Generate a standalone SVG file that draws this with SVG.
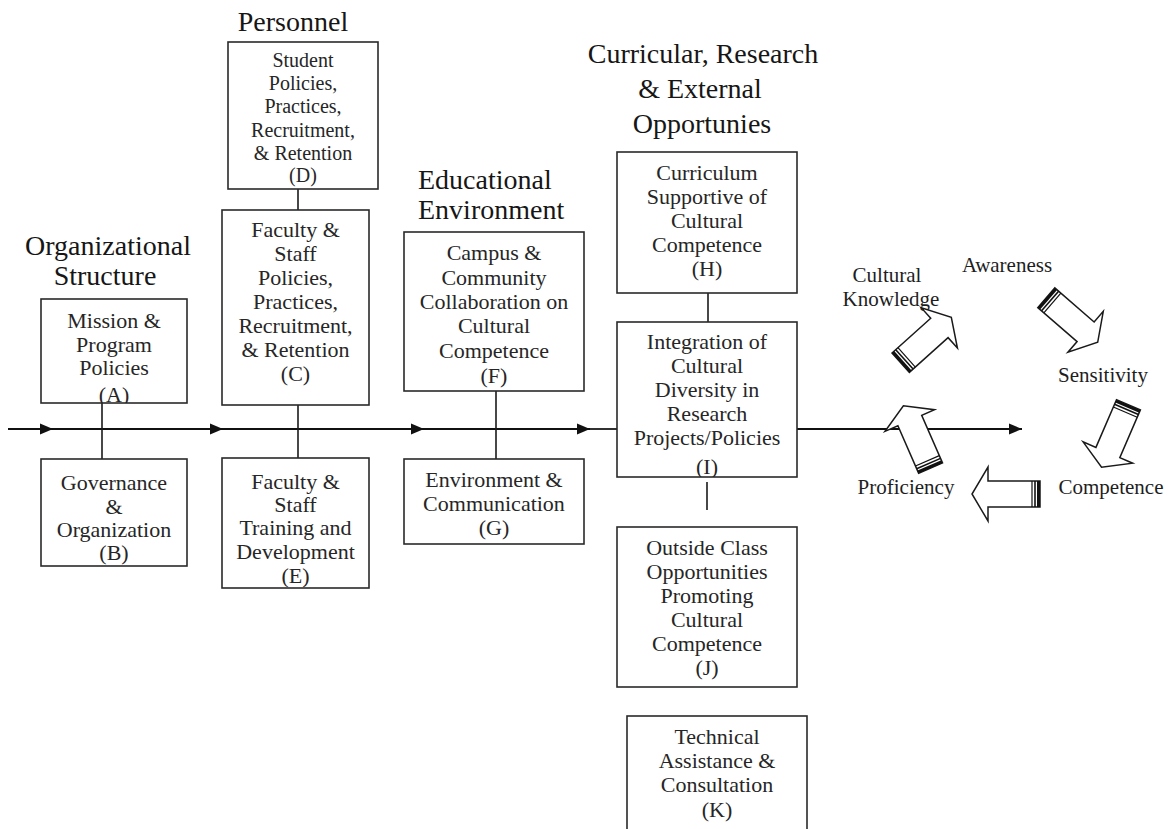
<svg xmlns="http://www.w3.org/2000/svg" xmlns:xlink="http://www.w3.org/1999/xlink" width="1174" height="829" viewBox="0 0 1174 829">
<style>
.box{fill:#fff;stroke:#2a2a2a;stroke-width:1.6}
.t{font-size:22px;text-anchor:middle;fill:#262626}
.ts{font-size:20px;text-anchor:middle;fill:#262626}
.ti{font-size:28px;fill:#161616}
.lb{font-size:21px;fill:#1e1e1e}
.ln{stroke:#1a1a1a;stroke-width:1.6;fill:none}
.ar{stroke:#111;stroke-width:1.8;fill:none;marker-end:url(#ah)}
</style>
<defs>
<marker id="ah" markerWidth="14" markerHeight="12" refX="13" refY="6" orient="auto" markerUnits="userSpaceOnUse">
<path d="M0,0.5 L13,6 L0,11.5 Z" fill="#111"/>
</marker>
<g id="blk">
<polygon points="-34,-13 18,-13 18,-27 34,0 18,27 18,13 -34,13" fill="#fff" stroke="#1a1a1a" stroke-width="1.5" stroke-linejoin="miter"/>
<line x1="-32.5" y1="-13" x2="-32.5" y2="13" stroke="#111" stroke-width="3"/>
<line x1="-29" y1="-13" x2="-29" y2="13" stroke="#111" stroke-width="1.6"/>
<line x1="-26" y1="-13" x2="-26" y2="13" stroke="#111" stroke-width="1.2"/>
</g>
<clipPath id="cA"><rect x="41" y="299" width="146" height="104"/></clipPath>
<clipPath id="cI"><rect x="617" y="322" width="180" height="155"/></clipPath>
<clipPath id="cE"><rect x="222" y="458" width="147" height="130"/></clipPath>
</defs>

<g id="connectors">
<line class="ar" x1="8" y1="429" x2="53" y2="429"/>
<line class="ar" x1="53" y1="429" x2="223" y2="429"/>
<line class="ar" x1="223" y1="429" x2="424" y2="429"/>
<line class="ar" x1="424" y1="429" x2="590" y2="429"/>
<line class="ln" x1="590" y1="429" x2="617" y2="429" style="stroke-width:1.8"/>
<line class="ar" x1="797" y1="429" x2="1022" y2="429"/>
<line class="ln" x1="102" y1="403" x2="102" y2="459"/>
<line class="ln" x1="298" y1="189" x2="298" y2="210"/>
<line class="ln" x1="298" y1="405" x2="298" y2="458"/>
<line class="ln" x1="496" y1="391" x2="496" y2="459"/>
<line class="ln" x1="708" y1="293" x2="708" y2="322"/>
<line class="ln" x1="707" y1="482" x2="707" y2="510"/>
</g>

<g font-family="Liberation Serif, DejaVu Serif, Times New Roman, serif">
<g id="titles">
<text class="ti" x="108" y="255" text-anchor="middle">Organizational</text>
<text class="ti" x="105" y="285" text-anchor="middle">Structure</text>
<text class="ti" x="293" y="31" text-anchor="middle">Personnel</text>
<text class="ti" x="418" y="189">Educational</text>
<text class="ti" x="418" y="219">Environment</text>
<text class="ti" x="703" y="63" text-anchor="middle">Curricular, Research</text>
<text class="ti" x="700" y="98" text-anchor="middle">&amp; External</text>
<text class="ti" x="702" y="133" text-anchor="middle">Opportunies</text>
</g>

<g id="nodeA">
<rect class="box" x="41" y="299" width="146" height="104"/>
<g clip-path="url(#cA)">
<text class="t" x="114" y="328">Mission &amp;</text>
<text class="t" x="114" y="352">Program</text>
<text class="t" x="114" y="375">Policies</text>
<text class="t" x="114" y="402">(A)</text>
</g>
</g>
<g id="nodeB">
<rect class="box" x="41" y="459" width="146" height="107"/>
<text class="t" x="114" y="490">Governance</text>
<text class="t" x="114" y="514">&amp;</text>
<text class="t" x="114" y="537">Organization</text>
<text class="t" x="114" y="560">(B)</text>
</g>
<g id="nodeD">
<rect class="box" x="228" y="42" width="150" height="147"/>
<text class="ts" x="303" y="67">Student</text>
<text class="ts" x="303" y="90">Policies,</text>
<text class="ts" x="303" y="113">Practices,</text>
<text class="ts" x="303" y="137">Recruitment,</text>
<text class="ts" x="303" y="160">&amp; Retention</text>
<text class="ts" x="303" y="182">(D)</text>
</g>
<g id="nodeC">
<rect class="box" x="222" y="210" width="147" height="195"/>
<text class="t" x="295.5" y="237">Faculty &amp;</text>
<text class="t" x="295.5" y="261">Staff</text>
<text class="t" x="295.5" y="285">Policies,</text>
<text class="t" x="295.5" y="309">Practices,</text>
<text class="t" x="295.5" y="333">Recruitment,</text>
<text class="t" x="295.5" y="357">&amp; Retention</text>
<text class="t" x="295.5" y="381">(C)</text>
</g>
<g id="nodeE">
<rect class="box" x="222" y="458" width="147" height="130"/>
<g clip-path="url(#cE)">
<text class="t" x="295.5" y="489">Faculty &amp;</text>
<text class="t" x="295.5" y="512">Staff</text>
<text class="t" x="295.5" y="535">Training and</text>
<text class="t" x="295.5" y="559">Development</text>
<text class="t" x="295.5" y="583">(E)</text>
</g>
</g>
<g id="nodeF">
<rect class="box" x="404" y="232" width="180" height="159"/>
<text class="t" x="494" y="260">Campus &amp;</text>
<text class="t" x="494" y="284.5">Community</text>
<text class="t" x="494" y="309">Collaboration on</text>
<text class="t" x="494" y="333">Cultural</text>
<text class="t" x="494" y="357.5">Competence</text>
<text class="t" x="494" y="383">(F)</text>
</g>
<g id="nodeG">
<rect class="box" x="404" y="459" width="180" height="85"/>
<text class="t" x="494" y="487">Environment &amp;</text>
<text class="t" x="494" y="511">Communication</text>
<text class="t" x="494" y="535">(G)</text>
</g>
<g id="nodeH">
<rect class="box" x="617" y="152" width="180" height="141"/>
<text class="t" x="707" y="180">Curriculum</text>
<text class="t" x="707" y="204">Supportive of</text>
<text class="t" x="707" y="228">Cultural</text>
<text class="t" x="707" y="252">Competence</text>
<text class="t" x="707" y="276">(H)</text>
</g>
<g id="nodeI">
<rect class="box" x="617" y="322" width="180" height="155"/>
<g clip-path="url(#cI)">
<text class="t" x="707" y="349">Integration of</text>
<text class="t" x="707" y="373">Cultural</text>
<text class="t" x="707" y="397">Diversity in</text>
<text class="t" x="707" y="421">Research</text>
<text class="t" x="707" y="445">Projects/Policies</text>
<text class="t" x="707" y="474">(I)</text>
</g>
</g>
<g id="nodeJ">
<rect class="box" x="617" y="527" width="180" height="160"/>
<text class="t" x="707" y="555">Outside Class</text>
<text class="t" x="707" y="579">Opportunities</text>
<text class="t" x="707" y="603">Promoting</text>
<text class="t" x="707" y="627">Cultural</text>
<text class="t" x="707" y="651">Competence</text>
<text class="t" x="707" y="675">(J)</text>
</g>
<g id="nodeK">
<rect class="box" x="627" y="716" width="180" height="130"/>
<text class="t" x="717" y="744">Technical</text>
<text class="t" x="717" y="768">Assistance &amp;</text>
<text class="t" x="717" y="792">Consultation</text>
<text class="t" x="717" y="817">(K)</text>
</g>

<g id="cycle">
<text class="lb" x="887" y="282" text-anchor="middle">Cultural</text>
<text class="lb" x="891" y="306" text-anchor="middle">Knowledge</text>
<text class="lb" x="1007" y="272" text-anchor="middle">Awareness</text>
<text class="lb" x="1103" y="382" text-anchor="middle">Sensitivity</text>
<text class="lb" x="1111" y="494" text-anchor="middle">Competence</text>
<text class="lb" x="906" y="494" text-anchor="middle">Proficiency</text>
<use xlink:href="#blk" transform="translate(926,340) rotate(-41.9)"/>
<use xlink:href="#blk" transform="translate(1072,320) rotate(40.9)"/>
<use xlink:href="#blk" transform="translate(1115,436) rotate(113.3)"/>
<use xlink:href="#blk" transform="translate(1006,494) rotate(180)"/>
<use xlink:href="#blk" transform="translate(917,437) rotate(-113.6)"/>
</g>
</g>
</svg>
